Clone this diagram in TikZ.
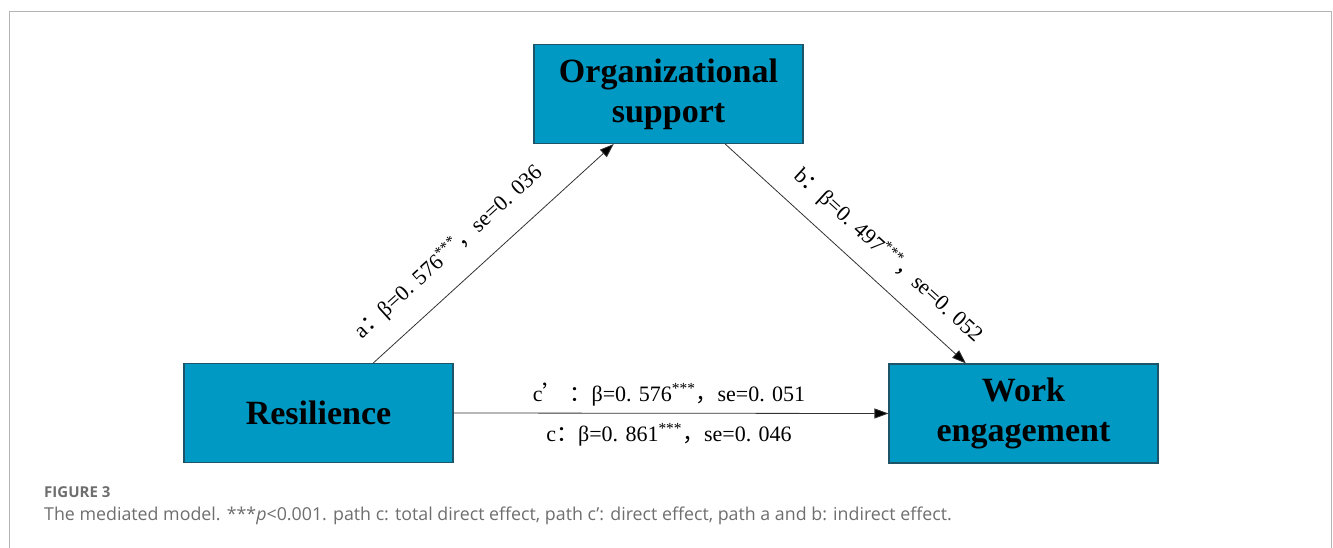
\documentclass[tikz,border=0pt]{standalone}
\usepackage{fontspec}
\setmainfont{Liberation Serif}
\newfontfamily\cjk{Noto Sans CJK SC}
\newfontfamily\capfont{Open Sans}
\usetikzlibrary{arrows.meta,calc}

\definecolor{boxfill}{HTML}{0099C4}
\definecolor{boxline}{HTML}{1E5468}
\definecolor{framegray}{HTML}{B4B4B4}
\definecolor{capgray}{HTML}{6E6E6E}
\definecolor{linkgray}{HTML}{333333}

\tikzset{
  varbox/.style={draw=boxline, line width=1.1pt, fill=boxfill,
    minimum width=269pt, minimum height=99pt, inner sep=0pt,
    align=center, font=\fontsize{34}{40}\selectfont\bfseries},
  link/.style={draw=linkgray, line width=0.8pt,
    -{Triangle[length=14pt,width=10pt,fill=black]}},
  coef/.style={inner sep=0pt, font=\fontsize{22}{26}\selectfont},
}
\newcommand{\fw}[1]{{\cjk #1}}

\begin{document}
\begin{tikzpicture}[x=1pt,y=-1pt]
  \useasboundingbox (0,0) rectangle (1333,548);
  % open-bottomed frame
  \draw[framegray, line width=1.4pt] (9.5,548) -- (9.5,11.5) -- (1331.5,11.5) -- (1331.5,548);

  % variables
  \node[varbox] (org) at (668.5,94) {Organizational\\support};
  \node[varbox] (res) at (318.5,413) {Resilience};
  \node[varbox] (work) at (1023.5,413.5) {Work\\engagement};

  % path end points on the box edges
  \coordinate (aS) at ($(res.north west)!0.703!(res.north east)$);
  \coordinate (aE) at ($(org.south west)!0.297!(org.south east)$);
  \coordinate (bS) at ($(org.south west)!0.71!(org.south east)$);
  \coordinate (bE) at ($(work.north west)!0.287!(work.north east)$);

  % paths a, b, c
  \draw[link] (aS) -- node[coef, pos=0.4, sloped, anchor=south, yshift=20pt]
    {a\fw{：}β=0. 576\textsuperscript{***}\fw{，}se=0. 036} (aE);
  \draw[link] (bS) -- node[coef, pos=0.6, sloped, anchor=south, yshift=16pt]
    {b\fw{：}β=0. 497\textsuperscript{***}\fw{，}se=0. 052} (bE);
  \draw[link] (res.east) -- node[coef, pos=0.5, xshift=-2pt, above=7pt]
    {c\fw{’ ：}β=0. 576\textsuperscript{***}\fw{，}se=0. 051}
    node[coef, pos=0.5, xshift=-2pt, below=10pt]
    {c\fw{：}β=0. 861\textsuperscript{***}\fw{，}se=0. 046} (work.west);

  % caption
  \node[anchor=base west, inner sep=0pt, text=capgray,
        font=\capfont\fontsize{15}{18}\selectfont\bfseries] (fig) at (44,497) {FIGURE 3};
  \node[anchor=base west, inner sep=0pt, text=capgray,
        font=\capfont\fontsize{17.8}{22}\selectfont] (cap) at (44,520)
    {The mediated model. ***\textit{p}<0.001. path c: total direct effect, path c’: direct effect, path a and b: indirect effect.};
\end{tikzpicture}
\end{document}
